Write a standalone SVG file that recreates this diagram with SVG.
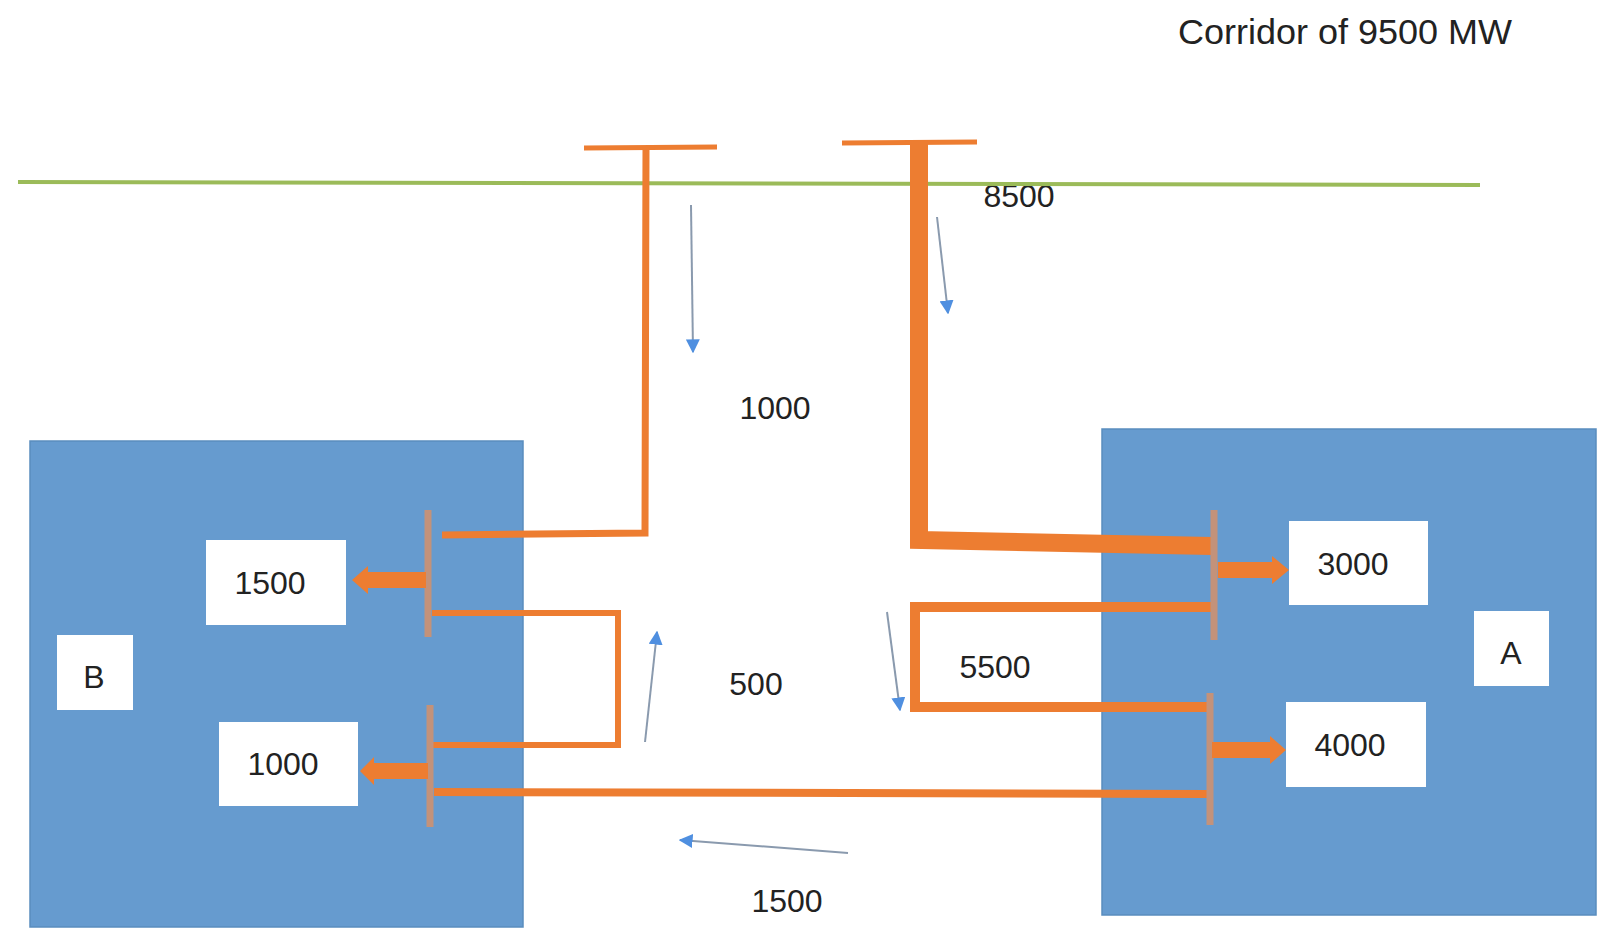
<svg xmlns="http://www.w3.org/2000/svg" width="1606" height="931" viewBox="0 0 1606 931">
<defs>
<style>
.region{fill:#669BCF;stroke:#5A8DBE;stroke-width:1.5}
.box{fill:#FFFFFF}
.t{font-family:"Liberation Sans",Arial,sans-serif;font-size:32px;fill:#222;text-anchor:middle}
.ln{fill:none;stroke:#ED7D31;stroke-linejoin:miter;stroke-linecap:butt}
.bus{stroke:#C3927A;stroke-width:7}
.blk{fill:#ED7D31}
.flow{stroke:#8A9AAE;stroke-width:2;fill:none;marker-end:url(#ah)}
</style>
<marker id="ah" viewBox="0 0 10 10" refX="9" refY="5" markerWidth="7" markerHeight="7" orient="auto" markerUnits="strokeWidth">
<path d="M0,0 L10,5 L0,10 z" fill="#4F8FE0"/>
</marker>
</defs>
<rect width="1606" height="931" fill="#FFFFFF"/>

<g id="regionB"><rect class="region" x="30" y="441" width="493" height="486"/></g>
<g id="regionA"><rect class="region" x="1102" y="429" width="494" height="486"/></g>

<g id="title"><text class="t" x="1178" y="44" style="text-anchor:start;font-size:35px" textLength="334" lengthAdjust="spacingAndGlyphs">Corridor of 9500 MW</text></g>

<g id="lbl8500"><text class="t" x="1019" y="207">8500</text></g>

<g id="connectors">
<line x1="18" y1="182" x2="1480" y2="185" stroke="#9BBB59" stroke-width="4"/>
<!-- left tower -->
<line class="ln" x1="584" y1="148" x2="717" y2="147" stroke-width="5"/>
<polyline class="ln" points="646,146 645,533 442,535" stroke-width="7"/>
<!-- right tower thick -->
<line class="ln" x1="842" y1="143" x2="977" y2="142" stroke-width="5"/>
<polyline class="ln" points="919,141 919,540 1212,546" stroke-width="18"/>
<!-- left loop 500 -->
<polyline class="ln" points="432,613 618,613 618,745 432,745" stroke-width="6"/>
<!-- right loop 5500 -->
<polyline class="ln" points="1212,607 915,607 915,707 1208,707" stroke-width="10"/>
<!-- bottom 1500 -->
<line class="ln" x1="434" y1="792" x2="1208" y2="794" stroke-width="8"/>
<!-- bus bars -->
<line class="bus" x1="428" y1="510" x2="428" y2="637"/>
<line class="bus" x1="430" y1="705" x2="430" y2="827"/>
<line class="bus" x1="1214" y1="510" x2="1214" y2="640"/>
<line class="bus" x1="1210" y1="693" x2="1210" y2="825"/>
<!-- block arrows -->
<polygon class="blk" points="426,572 368,572 368,566 352,580 368,594 368,588 426,588"/>
<polygon class="blk" points="428,763 374,763 374,757 360,771 374,785 374,779 428,779"/>
<polygon class="blk" points="1218,562 1272,562 1272,556 1289,570 1272,584 1272,578 1218,578"/>
<polygon class="blk" points="1212,742 1270,742 1270,736 1286,750 1270,764 1270,758 1212,758"/>
<!-- thin flow arrows -->
<line class="flow" x1="691" y1="205" x2="693" y2="352"/>
<line class="flow" x1="937" y1="217" x2="948" y2="313"/>
<line class="flow" x1="645" y1="742" x2="657" y2="632"/>
<line class="flow" x1="887" y1="612" x2="900" y2="710"/>
<line class="flow" x1="848" y1="853" x2="680" y2="840"/>
</g>

<g id="lbl1000"><text class="t" x="775" y="419">1000</text></g>
<g id="lbl500"><text class="t" x="756" y="695">500</text></g>
<g id="lbl5500"><text class="t" x="995" y="678">5500</text></g>
<g id="lbl1500b"><text class="t" x="787" y="912">1500</text></g>

<g id="box1500"><rect class="box" x="206" y="540" width="140" height="85"/><text class="t" x="270" y="594">1500</text></g>
<g id="box1000"><rect class="box" x="219" y="722" width="139" height="84"/><text class="t" x="283" y="775">1000</text></g>
<g id="boxB"><rect class="box" x="57" y="635" width="76" height="75"/><text class="t" x="94" y="688">B</text></g>
<g id="box3000"><rect class="box" x="1289" y="521" width="139" height="84"/><text class="t" x="1353" y="575">3000</text></g>
<g id="box4000"><rect class="box" x="1286" y="702" width="140" height="85"/><text class="t" x="1350" y="756">4000</text></g>
<g id="boxA"><rect class="box" x="1474" y="611" width="75" height="75"/><text class="t" x="1511" y="664">A</text></g>
</svg>
